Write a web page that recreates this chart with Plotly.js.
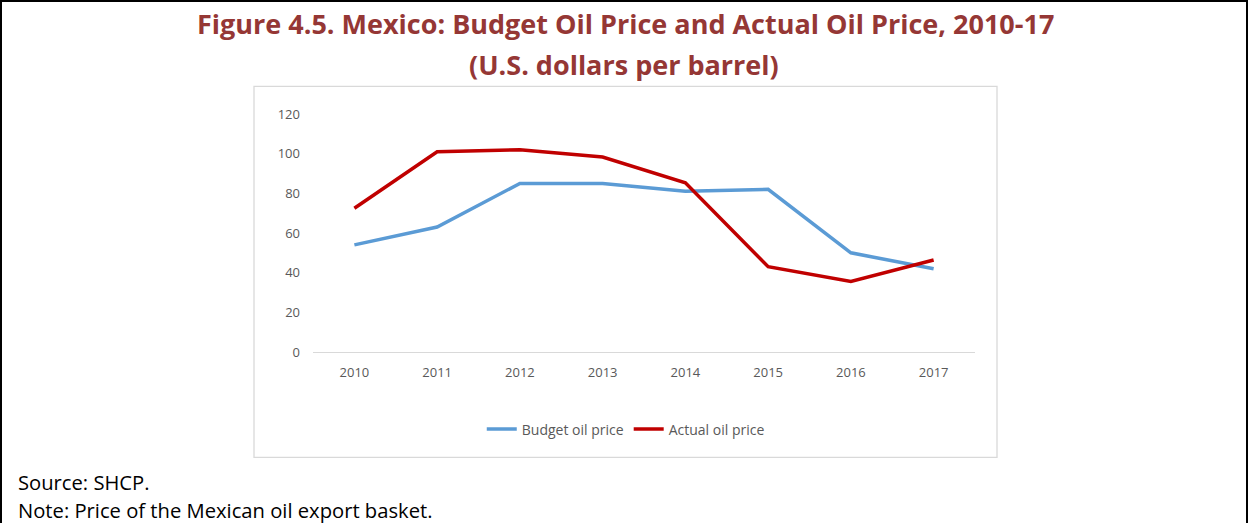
<!DOCTYPE html>
<html>
<head>
<meta charset="utf-8">
<script src="https://cdn.plot.ly/plotly-3.0.1.min.js"></script>
<style>
html,body{margin:0;padding:0;background:#fff;}
#wrap{position:relative;width:1248px;height:523px;}
#chart{width:1248px;height:523px;}
#frame{position:absolute;left:0;top:0;width:1244px;height:523px;border-top:2px solid #000;border-left:2px solid #000;border-right:2px solid #000;pointer-events:none;box-sizing:content-box;}
</style>
</head>
<body>
<div id="wrap"><div id="chart"></div><div id="frame"></div></div>
<script>
var years = ["2010","2011","2012","2013","2014","2015","2016","2017"];
var budgetPrice = [54, 63, 85, 85, 81, 82, 50, 42];
var actualPrice = [72.5, 101, 102, 98.3, 85.3, 43, 35.6, 46.4];
var yTicks = [0, 20, 40, 60, 80, 100, 120];

var W = 1248, H = 523;
var L = 313, R = 975.5, T = 114.3, B = 351.7;
function px(x){ return (x - L) / (R - L); }
function py(y){ return (B - y) / (B - T); }

var traces = [
  {x: years, y: budgetPrice, name: "Budget oil price", type: "scatter", mode: "lines",
   line: {color: "#5B9BD5", width: 3.5}},
  {x: years, y: actualPrice, name: "Actual oil price", type: "scatter", mode: "lines",
   line: {color: "#C00000", width: 3.5}}
];

var titleFont = {family: "Open Sans", size: 27, color: "#953735", weight: 700};
var noteFont = {family: "Open Sans", size: 20.2, color: "#000"};
var layout = {
  width: W, height: H,
  margin: {l: L, r: W - R, t: T, b: H - B, pad: 0},
  paper_bgcolor: "#fff", plot_bgcolor: "#fff",
  showlegend: true,
  legend: {orientation: "h", x: px(626), xanchor: "center", y: py(429), yanchor: "middle",
           font: {family: "Open Sans", size: 14, color: "#595959"}, itemwidth: 30, tracegroupgap: 0},
  xaxis: {type: "category", range: [-0.5, 7.5], showgrid: false, zeroline: false,
          showline: true, linecolor: "#d9d9d9", linewidth: 1.3, ticks: "",
          tickfont: {family: "Open Sans", size: 13, color: "#595959"}, ticklabelstandoff: 8, fixedrange: true},
  yaxis: {range: [0, 120], tickvals: yTicks, showgrid: false, zeroline: false, showline: false,
          ticks: "", tickfont: {family: "Open Sans", size: 13, color: "#595959"}, ticklabelstandoff: 12, fixedrange: true},
  shapes: [
    {type: "rect", xref: "paper", yref: "paper", xsizemode: "pixel", ysizemode: "pixel",
     xanchor: 0, yanchor: 0, x0: 254 - L, x1: 997 - L, y0: B - 457, y1: B - 86,
     line: {color: "#d9d9d9", width: 1.3}, fillcolor: "rgba(0,0,0,0)", layer: "below"}
  ],
  annotations: [
    {text: "Figure 4.5. Mexico: Budget Oil Price and Actual Oil Price, 2010-17", xref: "paper", yref: "paper",
     x: px(626), y: py(24), xanchor: "center", yanchor: "middle", showarrow: false, font: titleFont},
    {text: "(U.S. dollars per barrel)", xref: "paper", yref: "paper",
     x: px(624), y: py(65), xanchor: "center", yanchor: "middle", showarrow: false, font: titleFont},
    {text: "Source: SHCP.", xref: "paper", yref: "paper", x: px(16), y: py(481), xanchor: "left", yanchor: "middle",
     showarrow: false, font: noteFont},
    {text: "Note: Price of the Mexican oil export basket.", xref: "paper", yref: "paper", x: px(16), y: py(509),
     xanchor: "left", yanchor: "middle", showarrow: false, font: noteFont}
  ]
};
Plotly.newPlot("chart", traces, layout, {displayModeBar: false, staticPlot: true});
</script>
</body>
</html>
